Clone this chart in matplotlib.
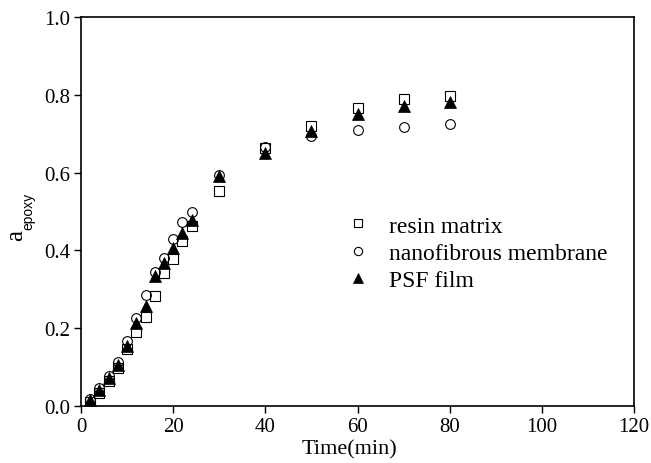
import matplotlib
matplotlib.use("Agg")
import matplotlib.pyplot as plt

plt.rcParams['font.family'] = ['Liberation Serif', 'DejaVu Serif']

time_resin = [2, 4, 6, 8, 10, 12, 14, 16, 18, 20, 22, 24, 30, 40, 50, 60, 70, 80]
resin = [0.010, 0.033, 0.065, 0.097, 0.146, 0.190, 0.228, 0.283, 0.343, 0.379, 0.424, 0.463,
         0.553, 0.663, 0.720, 0.765, 0.790, 0.797]

time_nano = [2, 4, 6, 8, 10, 12, 14, 16, 18, 20, 22, 24, 30, 40, 50, 60, 70, 80]
nano = [0.018, 0.045, 0.078, 0.112, 0.167, 0.226, 0.285, 0.344, 0.381, 0.430, 0.474, 0.500,
        0.593, 0.665, 0.695, 0.710, 0.716, 0.724]

time_psf = [2, 4, 6, 8, 10, 12, 14, 16, 18, 20, 22, 24, 30, 40, 50, 60, 70, 80]
psf = [0.015, 0.040, 0.072, 0.106, 0.155, 0.213, 0.257, 0.333, 0.368, 0.406, 0.446, 0.478,
       0.590, 0.650, 0.708, 0.750, 0.771, 0.782]

xticks = [0, 20, 40, 60, 80, 100, 120]
yticks = [0.0, 0.2, 0.4, 0.6, 0.8, 1.0]

W, H = 651, 464
fig = plt.figure(figsize=(W / 100, H / 100), dpi=100)
ax = fig.add_axes([81 / W, (H - 407) / H, 553 / W, 389 / H])

ax.plot(time_resin, resin, linestyle='none', marker='s', markersize=6.5,
        markerfacecolor='white', markeredgecolor='black', markeredgewidth=0.8,
        label='resin matrix')
ax.plot(time_nano, nano, linestyle='none', marker='o', markersize=7,
        markerfacecolor='none', markeredgecolor='black', markeredgewidth=0.8,
        label='nanofibrous membrane')
ax.plot(time_psf, psf, linestyle='none', marker='^', markersize=8,
        markerfacecolor='black', markeredgecolor='black', markeredgewidth=0.5,
        label='PSF film')

ax.set_xlim(0, 120)
ax.set_ylim(0, 1.0)
ax.set_xticks(xticks)
ax.set_yticks(yticks)
ax.set_yticklabels([f"{v:.1f}" for v in yticks])
for s in ['left', 'bottom', 'top', 'right']:
    ax.spines[s].set_linewidth(1.2)
ax.tick_params(direction='out', length=5, width=1.0, labelsize=15, pad=3,
               top=False, right=False)

ax.set_xlabel('Time(min)', fontsize=16)
ax.xaxis.set_label_coords(0.485, -0.085)

# y label: "a" with sans-serif subscript "epoxy"
fig.text(16 / W, 1 - 236 / H, 'a', rotation=90, fontsize=18,
         family='Liberation Serif', ha='center', va='center')
fig.text(28 / W, 1 - 211 / H, 'epoxy', rotation=90, fontsize=10,
         family='Liberation Sans', ha='center', va='center')

leg = ax.legend(loc='upper left', bbox_to_anchor=(0.463, 0.515), frameon=False,
                fontsize=17, handletextpad=0.8, labelspacing=0.25, handlelength=1.0,
                borderaxespad=0, markerscale=0.85)

fig.savefig('out.png', dpi=100)
